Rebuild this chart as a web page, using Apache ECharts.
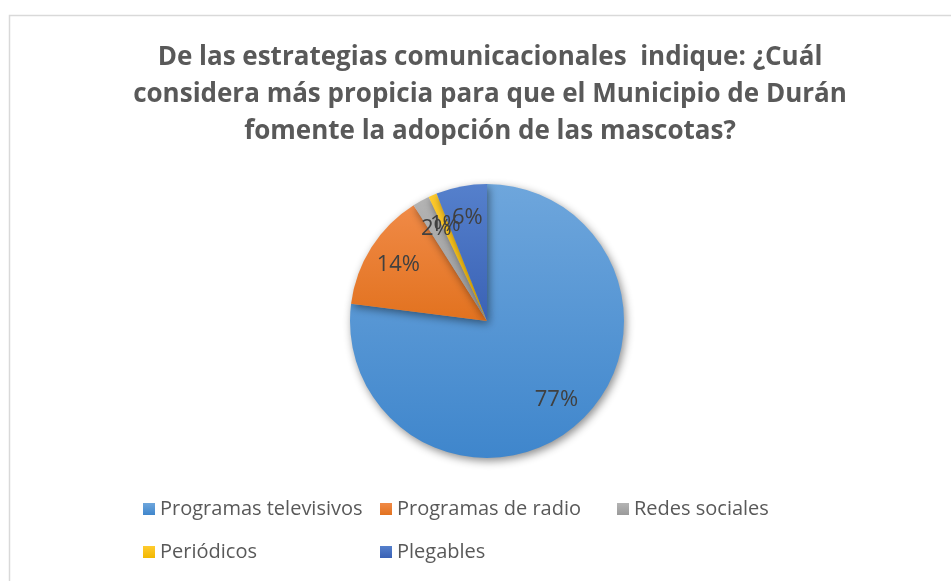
<!DOCTYPE html>
<html><head><meta charset="utf-8">
<script src="https://cdn.jsdelivr.net/npm/echarts@6/dist/echarts.min.js"></script>
<style>html,body{margin:0;padding:0;background:#fff}#c{width:951px;height:581px}</style>
</head><body><div id="c"></div>
<script>
const categories = ['Programas televisivos','Programas de radio','Redes sociales','Periódicos','Plegables'];
const values = [77, 14, 2, 1, 6];
const colorsTop = ['#6EA6DC','#F08A47','#B4B4B4','#FFCB2E','#5580CC'];
const colorsBottom = ['#3F86CC','#E2721F','#9A9A9A','#F2B800','#3A62B5'];
const titleText = 'De las estrategias comunicacionales  indique: ¿Cuál\nconsidera más propicia para que el Municipio de Durán\nfomente la adopción de las mascotas?';

const chart = echarts.init(document.getElementById('c'));
const grad = i => new echarts.graphic.LinearGradient(0,0,0,1,[{offset:0,color:colorsTop[i]},{offset:1,color:colorsBottom[i]}]);
const pieData = categories.map((n,i)=>({name:n,value:values[i],itemStyle:{color:grad(i)}}));
const labelData = categories.map((n,i)=>({name:n,value:values[i]}));
const legendStyle = {fontSize:20,color:'#595959',fontFamily:'Open Sans'};
const mkLegend = (names, left) => ({data:names, left:left, top:494, orient:'vertical', itemGap:23, itemWidth:12, itemHeight:12, icon:'rect', textStyle:legendStyle, selectedMode:false});
chart.setOption({
  animation:false,
  title:{text:titleText,left:485,textAlign:'center',top:34,textStyle:{fontFamily:'Open Sans',fontWeight:'bold',fontSize:26,color:'#595959',lineHeight:37}},
  graphic:[{type:'rect',shape:{x:9.5,y:15.5,width:1000,height:600},style:{fill:'none',stroke:'#D9D9D9',lineWidth:1.5}}],
  legend:[
    mkLegend([categories[0],categories[3]],138),
    mkLegend([categories[1],categories[4]],375),
    mkLegend([categories[2]],612)
  ],
  series:[
    {type:'pie',name:'main',center:[487,321],radius:[0,137],startAngle:90,clockwise:true,
     data:pieData,label:{show:false},labelLine:{show:false},
     itemStyle:{shadowBlur:8,shadowOffsetX:2,shadowOffsetY:3,shadowColor:'rgba(0,0,0,0.45)'},
     emphasis:{disabled:true}},
    {type:'pie',name:'labels',silent:true,center:[487,321],radius:[0,204],startAngle:90,clockwise:true,
     avoidLabelOverlap:false,
     data:labelData,itemStyle:{color:'rgba(0,0,0,0)'},
     label:{show:true,position:'inside',formatter:'{d}%',fontSize:22,color:'#404040',fontFamily:'Open Sans'},
     labelLayout:{hideOverlap:false},
     labelLine:{show:false},emphasis:{disabled:true}}
  ]
});
</script></body></html>
